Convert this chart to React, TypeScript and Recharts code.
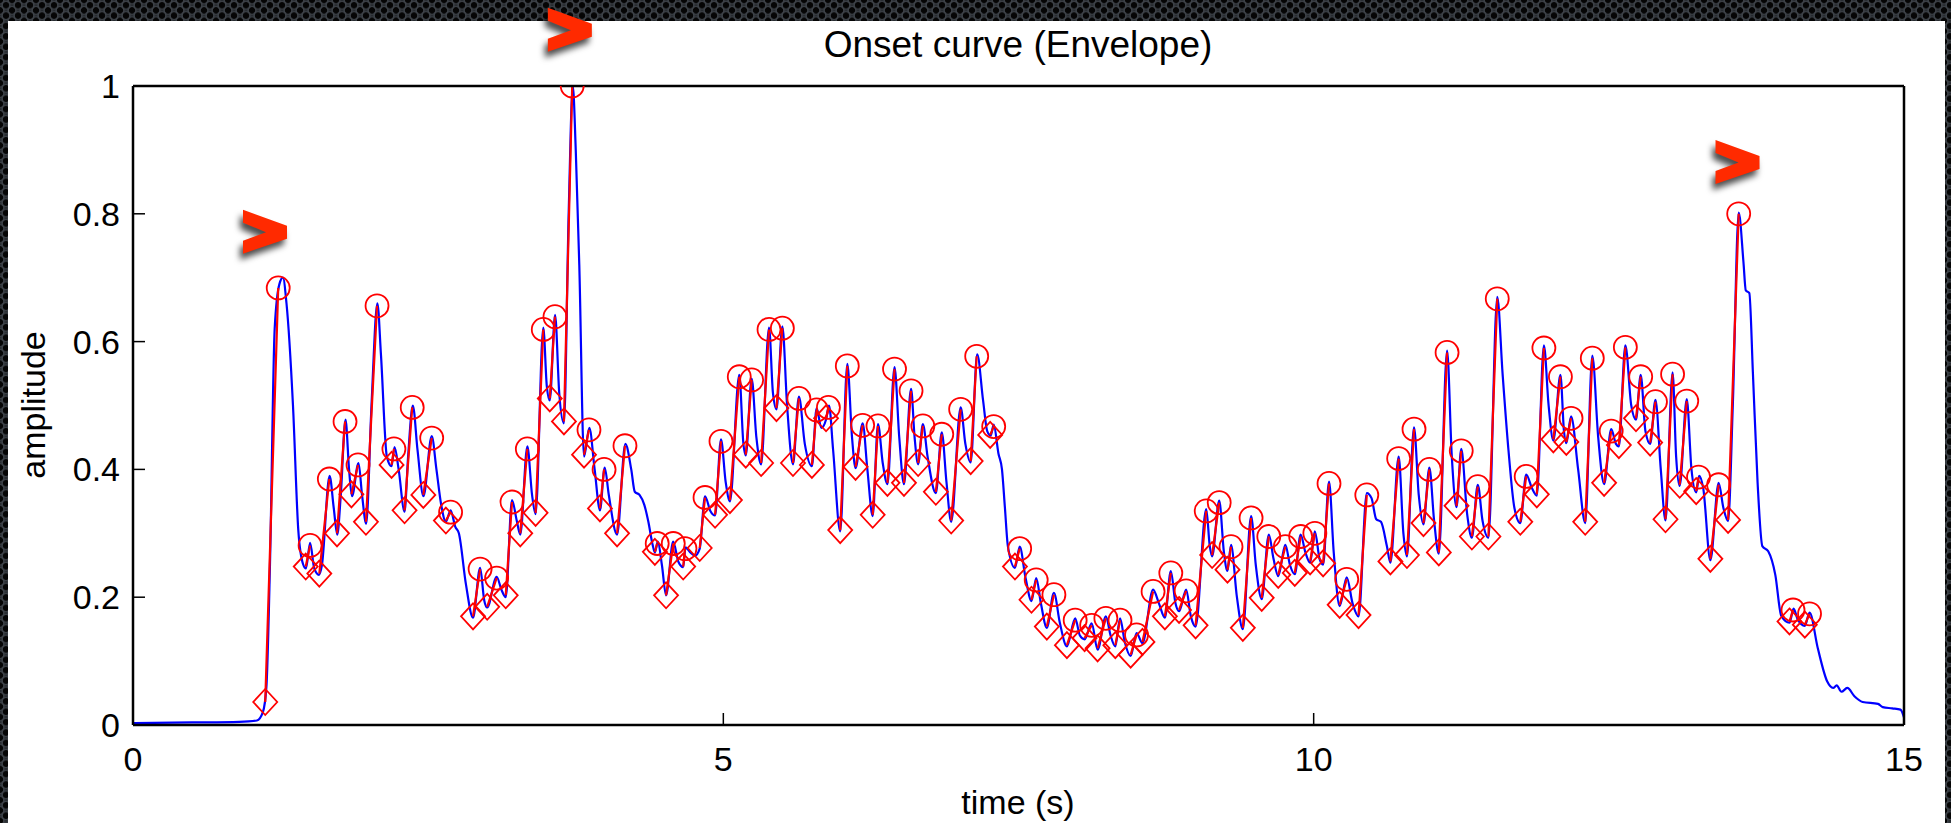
import { ComposedChart, Line, ReferenceDot, XAxis, YAxis } from "recharts"

const FONT = '"Liberation Sans", Arial, Helvetica, sans-serif'

const timeTicks = [0, 5, 10, 15]
const amplitudeTicks = [0, 0.2, 0.4, 0.6, 0.8, 1]

// onset envelope, [time (s), amplitude]
const envelope: [number, number][] = [
    [0, 0.003], [0.5, 0.004], [0.9, 0.005], [1.05, 0.007], [1.1, 0.02], [1.13, 0.06], [1.16, 0.25], [1.2, 0.62], [1.24, 0.69], [1.27, 0.7],
    [1.3, 0.66], [1.355, 0.5], [1.4, 0.305], [1.44, 0.252], [1.465, 0.245], [1.5, 0.285], [1.535, 0.245], [1.575, 0.235], [1.6, 0.25], [1.665, 0.39],
    [1.7, 0.34], [1.73, 0.298], [1.76, 0.36], [1.8, 0.478], [1.83, 0.4], [1.855, 0.358], [1.91, 0.41], [1.94, 0.36], [1.975, 0.315], [2.02, 0.5],
    [2.07, 0.66], [2.1, 0.58], [2.15, 0.42], [2.19, 0.405], [2.215, 0.435], [2.25, 0.4], [2.3, 0.334], [2.33, 0.42], [2.37, 0.5], [2.41, 0.43],
    [2.46, 0.358], [2.53, 0.452], [2.57, 0.4], [2.61, 0.345], [2.65, 0.318], [2.69, 0.336], [2.73, 0.31], [2.76, 0.3], [2.82, 0.22], [2.88, 0.168],
    [2.94, 0.246], [2.975, 0.195], [3.0, 0.184], [3.08, 0.232], [3.12, 0.212], [3.157, 0.2], [3.21, 0.352], [3.25, 0.32], [3.28, 0.298], [3.34, 0.436],
    [3.38, 0.36], [3.41, 0.33], [3.475, 0.622], [3.505, 0.53], [3.53, 0.508], [3.575, 0.642], [3.61, 0.52], [3.65, 0.472], [3.69, 0.8], [3.725, 1.0],
    [3.75, 0.9], [3.78, 0.72], [3.82, 0.42], [3.865, 0.465], [3.91, 0.4], [3.955, 0.336], [3.995, 0.403], [4.03, 0.36], [4.1, 0.298], [4.17, 0.44],
    [4.22, 0.4], [4.25, 0.365], [4.29, 0.36], [4.33, 0.345], [4.365, 0.318], [4.4, 0.283], [4.42, 0.27], [4.445, 0.287], [4.48, 0.25], [4.515, 0.203],
    [4.575, 0.287], [4.62, 0.255], [4.66, 0.247], [4.68, 0.278], [4.72, 0.27], [4.76, 0.265], [4.8, 0.276], [4.845, 0.358], [4.89, 0.335], [4.93, 0.328],
    [4.98, 0.447], [5.02, 0.38], [5.056, 0.35], [5.135, 0.548], [5.17, 0.44], [5.19, 0.422], [5.24, 0.542], [5.28, 0.45], [5.32, 0.408], [5.387, 0.622],
    [5.42, 0.52], [5.45, 0.494], [5.5, 0.624], [5.54, 0.5], [5.59, 0.408], [5.64, 0.514], [5.69, 0.44], [5.75, 0.405], [5.79, 0.496], [5.83, 0.465],
    [5.87, 0.478], [5.895, 0.5], [5.93, 0.43], [5.99, 0.303], [6.05, 0.565], [6.09, 0.45], [6.12, 0.402], [6.18, 0.472], [6.22, 0.4], [6.265, 0.327],
    [6.31, 0.471], [6.35, 0.41], [6.39, 0.377], [6.45, 0.56], [6.49, 0.45], [6.53, 0.377], [6.59, 0.526], [6.62, 0.45], [6.65, 0.408], [6.69, 0.471],
    [6.73, 0.42], [6.8, 0.363], [6.85, 0.458], [6.89, 0.38], [6.93, 0.318], [7.01, 0.497], [7.05, 0.44], [7.095, 0.411], [7.15, 0.58], [7.2, 0.508],
    [7.235, 0.46], [7.265, 0.453], [7.29, 0.47], [7.33, 0.425], [7.36, 0.4], [7.385, 0.34], [7.41, 0.28], [7.47, 0.246], [7.51, 0.279], [7.56, 0.23],
    [7.61, 0.194], [7.65, 0.23], [7.69, 0.19], [7.74, 0.152], [7.8, 0.207], [7.85, 0.16], [7.91, 0.123], [7.98, 0.167], [8.02, 0.14], [8.06, 0.134],
    [8.12, 0.159], [8.17, 0.118], [8.24, 0.17], [8.28, 0.14], [8.32, 0.123], [8.36, 0.167], [8.4, 0.13], [8.45, 0.108], [8.5, 0.144], [8.55, 0.128],
    [8.64, 0.212], [8.69, 0.19], [8.74, 0.168], [8.79, 0.241], [8.83, 0.19], [8.86, 0.178], [8.92, 0.212], [8.96, 0.17], [9.0, 0.154], [9.09, 0.338],
    [9.12, 0.28], [9.14, 0.264], [9.2, 0.351], [9.24, 0.27], [9.27, 0.241], [9.3, 0.282], [9.35, 0.2], [9.4, 0.15], [9.47, 0.327], [9.51, 0.25],
    [9.56, 0.197], [9.62, 0.298], [9.66, 0.26], [9.7, 0.233], [9.76, 0.282], [9.8, 0.25], [9.84, 0.236], [9.89, 0.298], [9.93, 0.27], [9.97, 0.254],
    [10.01, 0.303], [10.05, 0.26], [10.08, 0.251], [10.13, 0.381], [10.17, 0.27], [10.22, 0.186], [10.28, 0.231], [10.33, 0.19], [10.38, 0.17], [10.45, 0.363],
    [10.49, 0.355], [10.53, 0.322], [10.57, 0.318], [10.62, 0.28], [10.65, 0.254], [10.72, 0.42], [10.76, 0.3], [10.79, 0.264], [10.85, 0.466], [10.89, 0.36],
    [10.93, 0.314], [10.98, 0.403], [11.02, 0.32], [11.06, 0.268], [11.13, 0.586], [11.17, 0.42], [11.21, 0.341], [11.25, 0.432], [11.3, 0.33], [11.34, 0.293],
    [11.39, 0.376], [11.43, 0.32], [11.48, 0.293], [11.555, 0.67], [11.6, 0.55], [11.65, 0.43], [11.7, 0.34], [11.75, 0.316], [11.8, 0.392], [11.85, 0.37],
    [11.89, 0.359], [11.95, 0.594], [11.99, 0.5], [12.03, 0.445], [12.09, 0.548], [12.12, 0.46], [12.14, 0.441], [12.18, 0.483], [12.24, 0.4], [12.3, 0.316],
    [12.36, 0.578], [12.41, 0.45], [12.46, 0.377], [12.52, 0.463], [12.56, 0.44], [12.585, 0.436], [12.64, 0.594], [12.69, 0.5], [12.73, 0.478], [12.77, 0.548],
    [12.81, 0.46], [12.85, 0.44], [12.895, 0.509], [12.94, 0.4], [12.98, 0.32], [13.04, 0.552], [13.07, 0.42], [13.1, 0.374], [13.16, 0.51], [13.2, 0.4],
    [13.24, 0.364], [13.265, 0.39], [13.3, 0.37], [13.36, 0.258], [13.43, 0.379], [13.47, 0.34], [13.51, 0.319], [13.55, 0.5], [13.6, 0.802], [13.64, 0.725],
    [13.66, 0.68], [13.69, 0.676], [13.72, 0.552], [13.76, 0.379], [13.8, 0.28], [13.85, 0.272], [13.91, 0.235], [13.96, 0.171], [14.03, 0.16], [14.065, 0.182],
    [14.1, 0.165], [14.16, 0.155], [14.2, 0.176], [14.27, 0.12], [14.35, 0.068], [14.4, 0.058], [14.43, 0.062], [14.47, 0.052], [14.52, 0.058], [14.58, 0.045],
    [14.65, 0.036], [14.78, 0.033], [14.82, 0.028], [14.9, 0.026], [14.97, 0.024], [15, 0.012],
]

// detected onsets (diamonds) and the peak each one rises to (circles), same order
const onsets: [number, number][] = [
    [1.12, 0.036], [1.463, 0.248], [1.578, 0.237], [1.728, 0.3], [1.85, 0.361], [1.973, 0.318], [2.19, 0.407], [2.3, 0.336], [2.459, 0.36], [2.65, 0.32],
    [2.88, 0.17], [3.0, 0.185], [3.157, 0.203], [3.28, 0.3], [3.41, 0.332], [3.53, 0.511], [3.65, 0.475], [3.82, 0.423], [3.955, 0.339], [4.1, 0.3],
    [4.42, 0.271], [4.515, 0.203], [4.66, 0.248], [4.8, 0.277], [4.93, 0.329], [5.056, 0.352], [5.19, 0.423], [5.32, 0.41], [5.45, 0.496], [5.59, 0.41],
    [5.75, 0.407], [5.87, 0.48], [5.99, 0.305], [6.12, 0.404], [6.265, 0.329], [6.39, 0.379], [6.53, 0.379], [6.65, 0.41], [6.8, 0.365], [6.93, 0.32],
    [7.095, 0.413], [7.26, 0.454], [7.47, 0.248], [7.61, 0.196], [7.74, 0.154], [7.91, 0.125], [8.06, 0.136], [8.17, 0.12], [8.32, 0.125], [8.45, 0.11],
    [8.55, 0.13], [8.74, 0.17], [8.86, 0.18], [9.0, 0.156], [9.14, 0.266], [9.27, 0.243], [9.4, 0.152], [9.56, 0.199], [9.7, 0.235], [9.84, 0.238],
    [9.97, 0.256], [10.08, 0.253], [10.22, 0.188], [10.38, 0.172], [10.65, 0.256], [10.79, 0.266], [10.93, 0.316], [11.06, 0.27], [11.21, 0.343], [11.34, 0.295],
    [11.48, 0.295], [11.75, 0.318], [11.89, 0.361], [12.03, 0.447], [12.14, 0.443], [12.3, 0.318], [12.46, 0.379], [12.585, 0.438], [12.73, 0.48], [12.85, 0.442],
    [12.98, 0.322], [13.1, 0.376], [13.24, 0.366], [13.36, 0.26], [13.51, 0.321], [14.03, 0.162], [14.16, 0.157],
]

const peaks: [number, number][] = [
    [1.23, 0.684], [1.5, 0.281], [1.663, 0.385], [1.796, 0.475], [1.906, 0.407], [2.067, 0.656], [2.21, 0.432], [2.365, 0.497], [2.53, 0.449], [2.69, 0.333],
    [2.94, 0.244], [3.08, 0.23], [3.21, 0.349], [3.34, 0.432], [3.475, 0.619], [3.574, 0.639], [3.72, 1.0], [3.862, 0.462], [3.99, 0.4], [4.167, 0.437],
    [4.44, 0.284], [4.576, 0.284], [4.675, 0.276], [4.845, 0.356], [4.98, 0.444], [5.135, 0.545], [5.24, 0.54], [5.387, 0.619], [5.5, 0.621], [5.64, 0.511],
    [5.79, 0.493], [5.89, 0.497], [6.05, 0.562], [6.18, 0.469], [6.31, 0.468], [6.45, 0.557], [6.59, 0.523], [6.69, 0.468], [6.85, 0.455], [7.01, 0.494],
    [7.146, 0.577], [7.29, 0.467], [7.51, 0.276], [7.65, 0.227], [7.8, 0.204], [7.98, 0.164], [8.12, 0.156], [8.24, 0.167], [8.36, 0.164], [8.5, 0.141],
    [8.64, 0.209], [8.79, 0.238], [8.92, 0.21], [9.09, 0.335], [9.2, 0.348], [9.3, 0.279], [9.47, 0.324], [9.62, 0.295], [9.76, 0.279], [9.89, 0.295],
    [10.01, 0.3], [10.13, 0.378], [10.28, 0.228], [10.45, 0.36], [10.72, 0.417], [10.85, 0.463], [10.98, 0.4], [11.13, 0.583], [11.25, 0.429], [11.39, 0.373],
    [11.555, 0.667], [11.8, 0.389], [11.95, 0.59], [12.09, 0.545], [12.18, 0.48], [12.36, 0.574], [12.52, 0.46], [12.64, 0.591], [12.77, 0.545], [12.895, 0.506],
    [13.04, 0.549], [13.16, 0.507], [13.26, 0.388], [13.43, 0.376], [13.6, 0.8], [14.06, 0.18], [14.2, 0.174],
]

// red ">" call-outs drawn over the slide
const arrowMarks: [number, number][] = [
    [1.118, 0.772],
    [3.7, 1.088],
    [13.59, 0.881],
]

const envelopeData = envelope.map(([t, a]) => ({ t, a }))

// each onset -> peak rise is its own red segment
const attackData = onsets.flatMap(([t0, a0], i) => [
    { t: t0, a: a0, kind: "onset" },
    { t: peaks[i][0], a: peaks[i][1], kind: "peak" },
    { t: peaks[i][0], a: null, kind: "gap" },
])

function renderMarker(props: any) {
    const { cx, cy, payload, index } = props
    if (cx == null || cy == null || payload == null || payload.a == null) {
        return <g key={`m-${index}`} />
    }
    if (payload.kind === "peak") {
        return <circle key={`m-${index}`} cx={cx} cy={cy} r={11.5} fill="none" stroke="#ff0000" strokeWidth={1.8} />
    }
    return (
        <path
            key={`m-${index}`}
            d={`M${cx},${cy - 13}L${cx + 12},${cy}L${cx},${cy + 13}L${cx - 12},${cy}Z`}
            fill="none"
            stroke="#ff0000"
            strokeWidth={1.8}
        />
    )
}

function Chevron(props: any) {
    const { cx, cy } = props
    if (cx == null || cy == null) return <g />
    const pts = [[-22, -22], [22, -6], [22, 7], [-22, 22], [-22, 9], [1, 0.5], [-22, -9]]
    return (
        <polygon
            points={pts.map(([x, y]) => `${cx + x},${cy + y}`).join(" ")}
            fill="#ff2a00"
            style={{ filter: "drop-shadow(-3px 6px 3px rgba(0,0,0,0.7))" }}
        />
    )
}

const tickStyle = { fill: "#000", fontSize: 34, fontFamily: FONT }
const axisLine = { stroke: "#000", strokeWidth: 2.5 }
const tickLine = { stroke: "#000", strokeWidth: 1.5 }

export default function App() {
    return (
        <div
            style={{
                position: "absolute",
                left: 0,
                top: 0,
                width: 1951,
                height: 823,
                overflow: "hidden",
                backgroundColor: "#1d2024",
                backgroundImage:
                    "radial-gradient(circle, #050505 0 2.8px, #3d4248 3.6px 4.3px, transparent 5px), radial-gradient(circle, #050505 0 2.8px, #3d4248 3.6px 4.3px, transparent 5px)",
                backgroundSize: "12px 10.4px",
                backgroundPosition: "0 0, 6px 5.2px",
                fontFamily: FONT,
            }}
        >
            <div style={{ position: "absolute", left: 8, top: 21, width: 1937, height: 802, background: "#fff" }} />

            <div
                style={{
                    position: "absolute",
                    left: 618,
                    width: 800,
                    top: 26,
                    textAlign: "center",
                    fontSize: 37,
                    lineHeight: "38px",
                    color: "#000",
                }}
            >
                Onset curve (Envelope)
            </div>
            <div
                style={{
                    position: "absolute",
                    left: 618,
                    width: 800,
                    top: 784,
                    textAlign: "center",
                    fontSize: 34,
                    lineHeight: "36px",
                    color: "#000",
                }}
            >
                time (s)
            </div>
            <div
                style={{
                    position: "absolute",
                    left: 33 - 200,
                    width: 400,
                    top: 405 - 18,
                    height: 36,
                    textAlign: "center",
                    fontSize: 34,
                    lineHeight: "36px",
                    color: "#000",
                    transform: "rotate(-90deg)",
                }}
            >
                amplitude
            </div>

            <div style={{ position: "absolute", left: 0, top: 0 }}>
                <ComposedChart width={1951} height={823} margin={{ bottom: 0, left: 0, right: 46, top: 85 }}>
                    <XAxis
                        type="number"
                        dataKey="t"
                        domain={[0, 15]}
                        ticks={timeTicks}
                        allowDataOverflow
                        height={98}
                        axisLine={axisLine}
                        tickLine={tickLine}
                        tickSize={-12}
                        tickMargin={34}
                        tick={tickStyle}
                    />
                    <XAxis
                        xAxisId="top"
                        orientation="top"
                        type="number"
                        dataKey="t"
                        domain={[0, 15]}
                        ticks={timeTicks}
                        height={1}
                        axisLine={axisLine}
                        tickLine={tickLine}
                        tickSize={-12}
                        tickFormatter={() => ""}
                    />
                    <YAxis
                        type="number"
                        domain={[0, 1]}
                        ticks={amplitudeTicks}
                        allowDataOverflow
                        width={133}
                        axisLine={axisLine}
                        tickLine={tickLine}
                        tickSize={-12}
                        tickMargin={25}
                        tick={tickStyle}
                    />
                    <YAxis
                        yAxisId="right"
                        orientation="right"
                        type="number"
                        domain={[0, 1]}
                        ticks={amplitudeTicks}
                        width={1}
                        axisLine={axisLine}
                        tickLine={tickLine}
                        tickSize={-12}
                        tickFormatter={() => ""}
                    />
                    <Line
                        data={envelopeData}
                        dataKey="a"
                        type="monotone"
                        stroke="#0000ff"
                        strokeWidth={2.2}
                        dot={false}
                        isAnimationActive={false}
                    />
                    <Line
                        data={attackData}
                        dataKey="a"
                        type="linear"
                        stroke="#ff0000"
                        strokeWidth={2.2}
                        dot={renderMarker}
                        activeDot={false}
                        connectNulls={false}
                        isAnimationActive={false}
                    />
                    {arrowMarks.map(([t, a], i) => (
                        <ReferenceDot key={`arrow-${i}`} x={t} y={a} r={22} ifOverflow="visible" shape={Chevron} />
                    ))}
                </ComposedChart>
            </div>
        </div>
    )
}
